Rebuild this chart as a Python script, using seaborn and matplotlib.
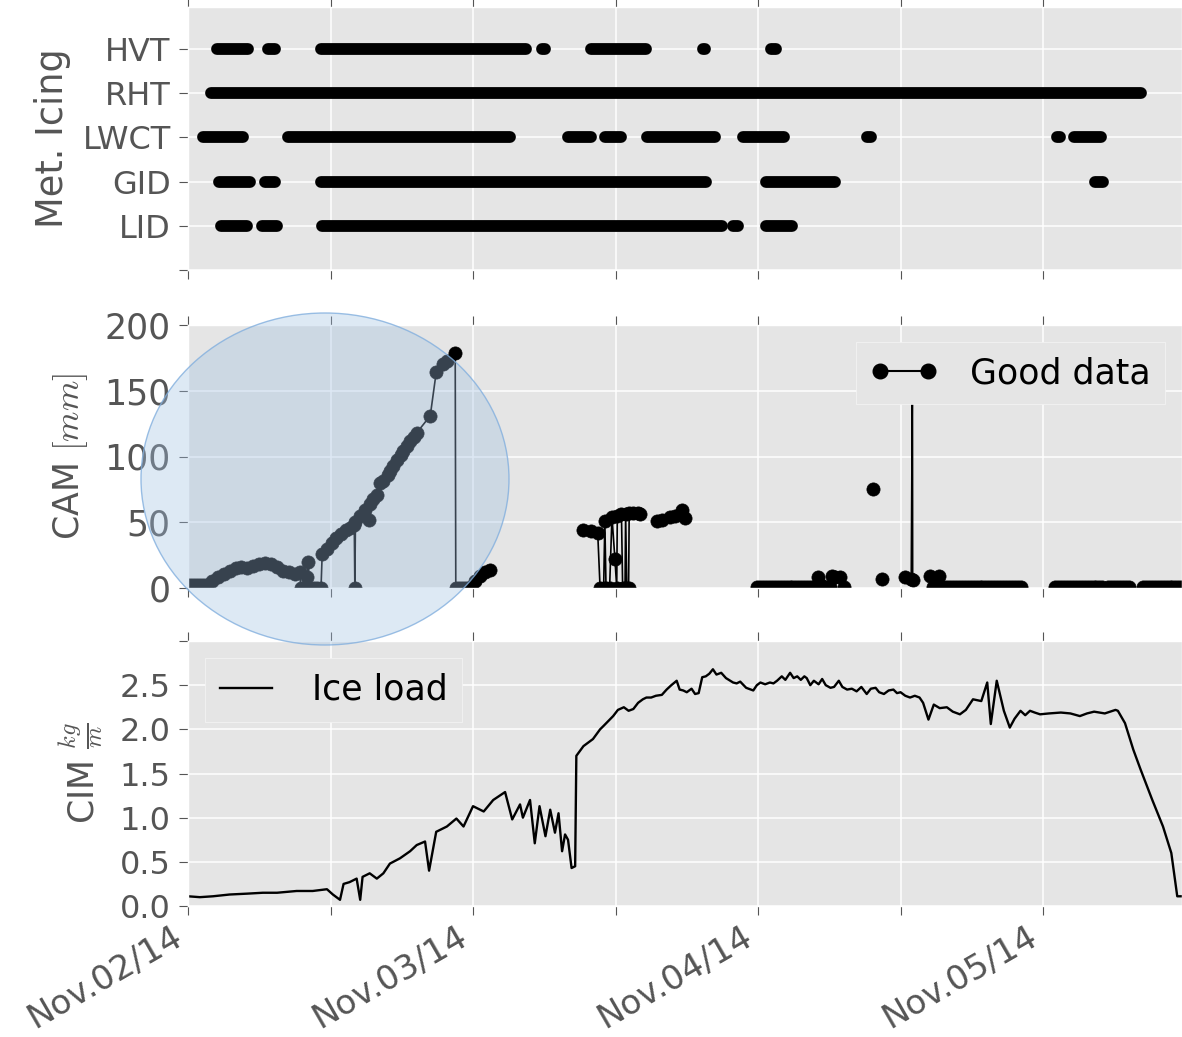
import numpy as np
import pandas as pd
import matplotlib
matplotlib.use("Agg")
import matplotlib.pyplot as plt
import matplotlib.dates as mdates
from matplotlib.patches import Ellipse
from matplotlib.lines import Line2D
from matplotlib.ticker import FuncFormatter
import seaborn as sns

# ---------------- data ----------------
T0 = pd.Timestamp("2014-11-02 00:00")

# Met. icing indicators: periods (hours after Nov 2, 00:00) when each indicator is on
icing_levels = ["LID", "GID", "LWCT", "RHT", "HVT"]
hvt_start = [2.4, 6.7, 11.2, 29.8, 33.9, 43.35, 49.1]
hvt_end = [5.05, 7.35, 28.5, 30.1, 38.6, 43.55, 49.5]
rht_start = [1.95]
rht_end = [80.25]
lwct_start = [1.25, 8.4, 32.0, 35.1, 38.65, 46.7, 57.2, 73.15, 74.6]
lwct_end = [4.65, 27.1, 33.95, 36.5, 44.4, 50.2, 57.5, 73.45, 76.9]
gid_start = [2.6, 6.5, 11.2, 48.7, 76.4]
gid_end = [5.2, 7.35, 43.6, 54.5, 77.05]
lid_start = [2.8, 6.25, 11.3, 45.9, 48.7]
lid_end = [4.95, 7.5, 45.0, 46.35, 50.9]

# CAM (mm): hours and values; None separates runs of good data
cam_hours = [
    0.0, 0.25, 0.5, 0.75, 1.0, 1.25, 1.5, 2.0, 2.5, 3.0, 3.5, 4.0, 4.5, 5.0, 5.5, 6.0, 6.5, 7.0, 7.5,
    8.0, 8.5, 9.0, 9.4, 9.5, 9.8, 10.0, 10.1, 10.3, 10.6, 10.9, 11.2, 11.3, 11.7, 12.1, 12.5, 12.9,
    13.3, 13.6, 14.0, 14.05, 14.1, 14.5, 14.9, 15.2, 15.3, 15.6, 15.9, 16.2, 16.45, 16.8, 17.0, 17.3,
    17.6, 17.9, 18.1, 18.4, 18.7, 19.0, 19.26, 20.4, 20.9, 21.5, 21.8, 22.5, 22.55, 22.8, 23.05, 23.3,
    23.55, 23.8, 24.2, 24.6, 25.0, 25.4,
    None,
    33.3, 33.9, 34.5, 34.7, 35.0, 35.1, 35.2, 35.5, 35.7, 35.95, 36.1, 36.15, 36.5, 36.6, 36.8, 36.85,
    36.95, 37.1, 37.15, 37.5, 37.9, 38.1,
    None,
    39.5, 39.9, 40.6, 41.0, 41.6, 41.85,
    None,
    47.9, 48.15, 48.4, 48.65, 48.9, 49.15, 49.4, 49.65, 49.9, 50.15, 50.4, 50.65, 50.9, 51.15, 51.4,
    51.65, 51.9, 52.15, 52.4, 52.65, 52.9, 53.05, 53.3, 53.55, 53.8, 54.05, 54.2, 54.5, 54.9, 55.2,
    None,
    57.7,
    None,
    58.4,
    None,
    60.4, 60.9, 61.0, 61.02,
    None,
    62.5, 62.7, 63.2, 63.4, 63.65, 63.9, 64.15, 64.4, 64.65, 64.9, 65.15, 65.4, 65.65, 65.9, 66.15,
    66.4, 66.65, 66.9, 67.15, 67.4, 67.65, 67.9, 68.15, 68.4, 68.65, 68.9, 69.15, 69.4, 69.65, 69.9, 70.15,
    None,
    73.0, 73.25, 73.5, 73.75, 74.0, 74.25, 74.5, 74.75, 75.0, 75.25, 75.5, 75.75, 76.0, 76.25, 76.5,
    76.75, 77.0,
    None,
    77.5, 77.75, 78.0, 78.25, 78.5, 78.75, 79.0, 79.25,
    None,
    80.4, 80.65, 80.9, 81.15, 81.4, 81.65, 81.9, 82.15, 82.4, 82.65, 82.9, 83.15, 83.4, 83.65, 83.9,
]
cam_values = [
    2, 2, 2, 2, 2, 2, 2, 5, 8, 11, 13, 15, 16, 15, 17, 18, 19, 18, 16,
    13, 12, 11, 12, 0, 0, 8, 20, 0, 0, 0, 0, 26, 30, 34, 38, 41,
    44, 46, 48, 0, 50, 55, 59, 52, 64, 68, 71, 80, 81, 86, 89, 93,
    97, 101, 104, 108, 112, 115, 118, 131, 164, 170, 173, 179, 0, 0, 0, 0,
    0, 1, 5, 9, 12, 14,
    None,
    44, 43, 42, 0, 0, 51, 0, 0, 54, 22, 0, 55, 56, 0, 0, 56,
    0, 0, 57, 57, 57, 56,
    None,
    51, 52, 54, 55, 59, 53,
    None,
    1, 1, 1, 1, 1, 1, 1, 1, 1, 1, 1, 1, 1, 1, 1,
    1, 1, 1, 1, 1, 1, 8, 2, 1, 1, 1, 9, 8, 8, 1,
    None,
    75,
    None,
    6.5,
    None,
    8, 7, 165, 6,
    None,
    9, 1, 9, 1, 1, 1, 1, 1, 1, 1, 1, 1, 1, 1, 1,
    1, 1, 1, 1, 1, 1, 1, 1, 1, 1, 1, 1, 1, 1, 1, 1,
    None,
    1, 1, 1, 1, 1, 1, 1, 1, 1, 1, 1, 1, 1, 1, 1,
    1, 1,
    None,
    1, 1, 1, 1, 1, 1, 1, 1,
    None,
    1, 1, 1, 1, 1, 1, 1, 1, 1, 1, 1, 1, 1, 1, 1,
]

# CIM ice load (kg/m)
cim_hours = [
    0.0, 1.0, 2.1, 3.5, 5.0, 6.3, 7.5, 9.15, 10.5, 11.7, 12.2, 12.8, 13.1, 13.6, 14.2, 14.5, 14.7, 15.3,
    15.9, 16.45, 17.0, 17.85, 18.7, 19.26, 19.96, 20.3, 20.9, 21.8, 22.6, 23.2, 24.0, 24.9, 25.7, 26.7,
    27.3, 27.96, 28.2, 28.8, 29.2, 29.6, 30.1, 30.5, 30.9, 31.2, 31.5, 31.75, 32.0, 32.3, 32.6, 32.7,
    33.3, 34.1, 34.7, 35.0, 35.8, 36.2, 36.7, 37.1, 37.5, 37.9, 38.3, 38.6, 39.0, 39.4, 39.9, 40.3,
    40.7, 41.15, 41.4, 41.7, 42.0, 42.4, 42.7, 43.0, 43.3, 43.6, 43.9, 44.2, 44.5, 44.9, 45.3, 45.9,
    46.2, 46.5, 47.0, 47.6, 47.9, 48.2, 48.6, 49.0, 49.3, 49.6, 50.0, 50.3, 50.7, 51.0, 51.3, 51.6,
    51.9, 52.1, 52.4, 52.7, 53.1, 53.4, 53.7, 54.1, 54.4, 54.8, 55.1, 55.5, 55.9, 56.3, 56.7, 57.15,
    57.5, 57.9, 58.2, 58.6, 59.0, 59.4, 59.7, 60.0, 60.4, 60.8, 61.2, 61.6, 61.9, 62.35, 62.8, 63.3,
    63.9, 64.4, 65.0, 65.5, 66.1, 66.8, 67.3, 67.6, 68.1, 68.7, 69.2, 69.6, 70.1, 70.5, 70.9, 71.3,
    71.75, 72.5, 73.5, 74.3, 75.1, 75.7, 76.3, 77.2, 78.1, 78.3, 78.9, 79.6, 80.2, 81.2, 82.1, 82.8,
    83.3, 83.7,
]
cim_values = [
    0.11, 0.10, 0.11, 0.13, 0.14, 0.15, 0.15, 0.17, 0.17, 0.19, 0.13, 0.07, 0.25, 0.27, 0.31, 0.07, 0.33, 0.37,
    0.31, 0.37, 0.48, 0.54, 0.62, 0.69, 0.73, 0.40, 0.84, 0.90, 0.99, 0.90, 1.13, 1.07, 1.20, 1.29,
    0.98, 1.15, 1.00, 1.20, 0.71, 1.13, 0.79, 1.09, 0.83, 1.05, 0.62, 0.81, 0.75, 0.43, 0.45, 1.70,
    1.81, 1.89, 2.00, 2.04, 2.15, 2.22, 2.25, 2.21, 2.23, 2.30, 2.34, 2.36, 2.36, 2.38, 2.39, 2.45,
    2.50, 2.55, 2.45, 2.44, 2.42, 2.46, 2.40, 2.41, 2.59, 2.60, 2.63, 2.68, 2.62, 2.64, 2.58, 2.53,
    2.52, 2.54, 2.47, 2.44, 2.50, 2.53, 2.51, 2.53, 2.52, 2.55, 2.60, 2.56, 2.64, 2.58, 2.60, 2.56,
    2.60, 2.58, 2.50, 2.55, 2.51, 2.57, 2.50, 2.47, 2.48, 2.55, 2.48, 2.45, 2.46, 2.43, 2.48, 2.40,
    2.46, 2.47, 2.42, 2.40, 2.44, 2.45, 2.41, 2.42, 2.38, 2.36, 2.38, 2.36, 2.30, 2.11, 2.28, 2.24,
    2.25, 2.20, 2.17, 2.22, 2.34, 2.32, 2.53, 2.06, 2.55, 2.21, 2.02, 2.12, 2.21, 2.16, 2.21, 2.19,
    2.17, 2.18, 2.19, 2.18, 2.15, 2.18, 2.20, 2.18, 2.22, 2.21, 2.07, 1.77, 1.55, 1.20, 0.90, 0.60,
    0.11, 0.11,
]

cam_ticks = [0, 50, 100, 150, 200]
cim_ticks = [0.0, 0.5, 1.0, 1.5, 2.0, 2.5, 3.0]
cim_ticklabels = ["0.0", "0.5", "1.0", "1.5", "2.0", "2.5", ""]
X_END_HOURS = 83.7

# ---------------- style ----------------
plt.style.use("ggplot")
plt.rcParams.update({
    "font.family": ["DejaVu Sans"],
    "mathtext.fontset": "cm",
    "axes.facecolor": "#E5E5E5",
    "axes.edgecolor": "white",
    "axes.labelcolor": "#555555",
    "xtick.color": "#555555",
    "ytick.color": "#555555",
    "xtick.direction": "out",
    "ytick.direction": "out",
    "xtick.major.size": 6.5,
    "ytick.major.size": 6.5,
    "xtick.major.pad": 3,
    "ytick.major.pad": 6,
    "grid.color": "white",
    "grid.linewidth": 1.1,
    "axes.grid": True,
    "axes.axisbelow": True,
})

fig = plt.figure(figsize=(11.82, 10.37), dpi=100)
W, H = 1182.0, 1037.0


def rect(l, t, r, b):
    return [l / W, 1 - b / H, (r - l) / W, (b - t) / H]


ax1 = fig.add_axes(rect(188, 7, 1182, 270))
ax2 = fig.add_axes(rect(188, 325, 1182, 588), sharex=ax1)
ax3 = fig.add_axes(rect(188, 641, 1182, 906), sharex=ax1)


def to_time(hours):
    return T0 + pd.to_timedelta(np.asarray(hours, dtype=float), unit="h")


# ---- top panel: icing indicators ----
rows = []
spans = {
    "HVT": (hvt_start, hvt_end),
    "RHT": (rht_start, rht_end),
    "LWCT": (lwct_start, lwct_end),
    "GID": (gid_start, gid_end),
    "LID": (lid_start, lid_end),
}
for name, (starts, ends) in spans.items():
    lvl = icing_levels.index(name) + 1
    for k, (s, e) in enumerate(zip(starts, ends)):
        rows.append((name, f"{name}{k}", s, lvl))
        rows.append((name, f"{name}{k}", e, lvl))
icing_df = pd.DataFrame(rows, columns=["indicator", "seg", "hours", "level"])
icing_df["time"] = to_time(icing_df["hours"])
sns.lineplot(data=icing_df, x="time", y="level", units="seg", estimator=None,
             color="black", linewidth=8.5, solid_capstyle="round", legend=False, ax=ax1)
ax1.set_ylim(0, 5.95)
ax1.set_yticks(range(6))
ax1.set_yticklabels([""] + icing_levels, fontsize=23)
ax1.set_ylabel("Met. Icing", fontsize=26.5, labelpad=8)
ax1.set_xlabel("")

# ---- middle panel: CAM ----
seg_ids, cur = [], 0
for h in cam_hours:
    if h is None:
        cur += 1
    seg_ids.append(cur)
cam_df = pd.DataFrame({"hours": cam_hours, "cam": cam_values, "seg": seg_ids}).dropna()
cam_df["time"] = to_time(cam_df["hours"])
sns.lineplot(data=cam_df, x="time", y="cam", units="seg", estimator=None, color="black",
             marker="o", markersize=9.5, markeredgecolor="black", markeredgewidth=0.5,
             linewidth=1.2, legend=False, ax=ax2)
ax2.set_ylim(0, 200)
ax2.set_yticks(cam_ticks)
ax2.set_yticklabels([str(v) for v in cam_ticks], fontsize=25)
ax2.set_ylabel("CAM $[mm]$", fontsize=25, labelpad=10)
ax2.set_xlabel("")
h_good = Line2D([0], [0], color="black", marker="o", markersize=10.5, linewidth=1.5)
ax2.legend(handles=[h_good], labels=["Good data"], loc="upper right", numpoints=2,
           fontsize=25, handlelength=2.0, handletextpad=0.9, borderaxespad=0.5,
           frameon=True, facecolor="#E5E5E5", edgecolor="#F5F5F5", framealpha=1, fancybox=False)

# ---- bottom panel: CIM ----
cim_df = pd.DataFrame({"time": to_time(cim_hours), "cim": cim_values})
sns.lineplot(data=cim_df, x="time", y="cim", color="black", linewidth=1.7, label="Ice load", ax=ax3)
ax3.set_ylim(0, 3.0)
ax3.set_yticks(cim_ticks)
ax3.set_yticklabels(cim_ticklabels, fontsize=23)
ax3.set_ylabel(r"CIM $\frac{kg}{m}$", fontsize=25, labelpad=10)
ax3.set_xlabel("")
ax3.legend(loc="upper left", fontsize=25, handlelength=1.5, handletextpad=1.15,
           borderpad=0.42, borderaxespad=0.5, frameon=True, facecolor="#E5E5E5",
           edgecolor="#F5F5F5", framealpha=1, fancybox=False)

# ---- shared x axis ----
ax1.set_xlim(T0, T0 + pd.Timedelta(hours=X_END_HOURS))
loc = mdates.HourLocator(byhour=[0, 12])


def day_fmt(x, pos):
    if abs(x - round(x)) < 1e-6:
        return mdates.num2date(round(x)).strftime("%b.%d/%y")
    return ""


for ax in (ax1, ax2, ax3):
    ax.xaxis.set_major_locator(loc)
    ax.xaxis.set_major_formatter(FuncFormatter(day_fmt))
    ax.tick_params(axis="x", top=True, bottom=True)
    ax.tick_params(axis="y", right=False)
ax1.tick_params(axis="x", labelbottom=False)
ax2.tick_params(axis="x", labelbottom=False)
for lab in ax3.get_xticklabels():
    lab.set_fontsize(24.5)
    lab.set_rotation(30)
    lab.set_ha("right")

# ---- highlight circle overlay ----
fig.add_artist(Ellipse((325 / W, 1 - 479 / H), 368 / W, 332 / H, transform=fig.transFigure,
                       facecolor=(160 / 255, 192 / 255, 226 / 255, 0.35),
                       edgecolor=(130 / 255, 175 / 255, 222 / 255, 0.8), linewidth=1.0, zorder=10))

fig.savefig("out.png", dpi=100)
